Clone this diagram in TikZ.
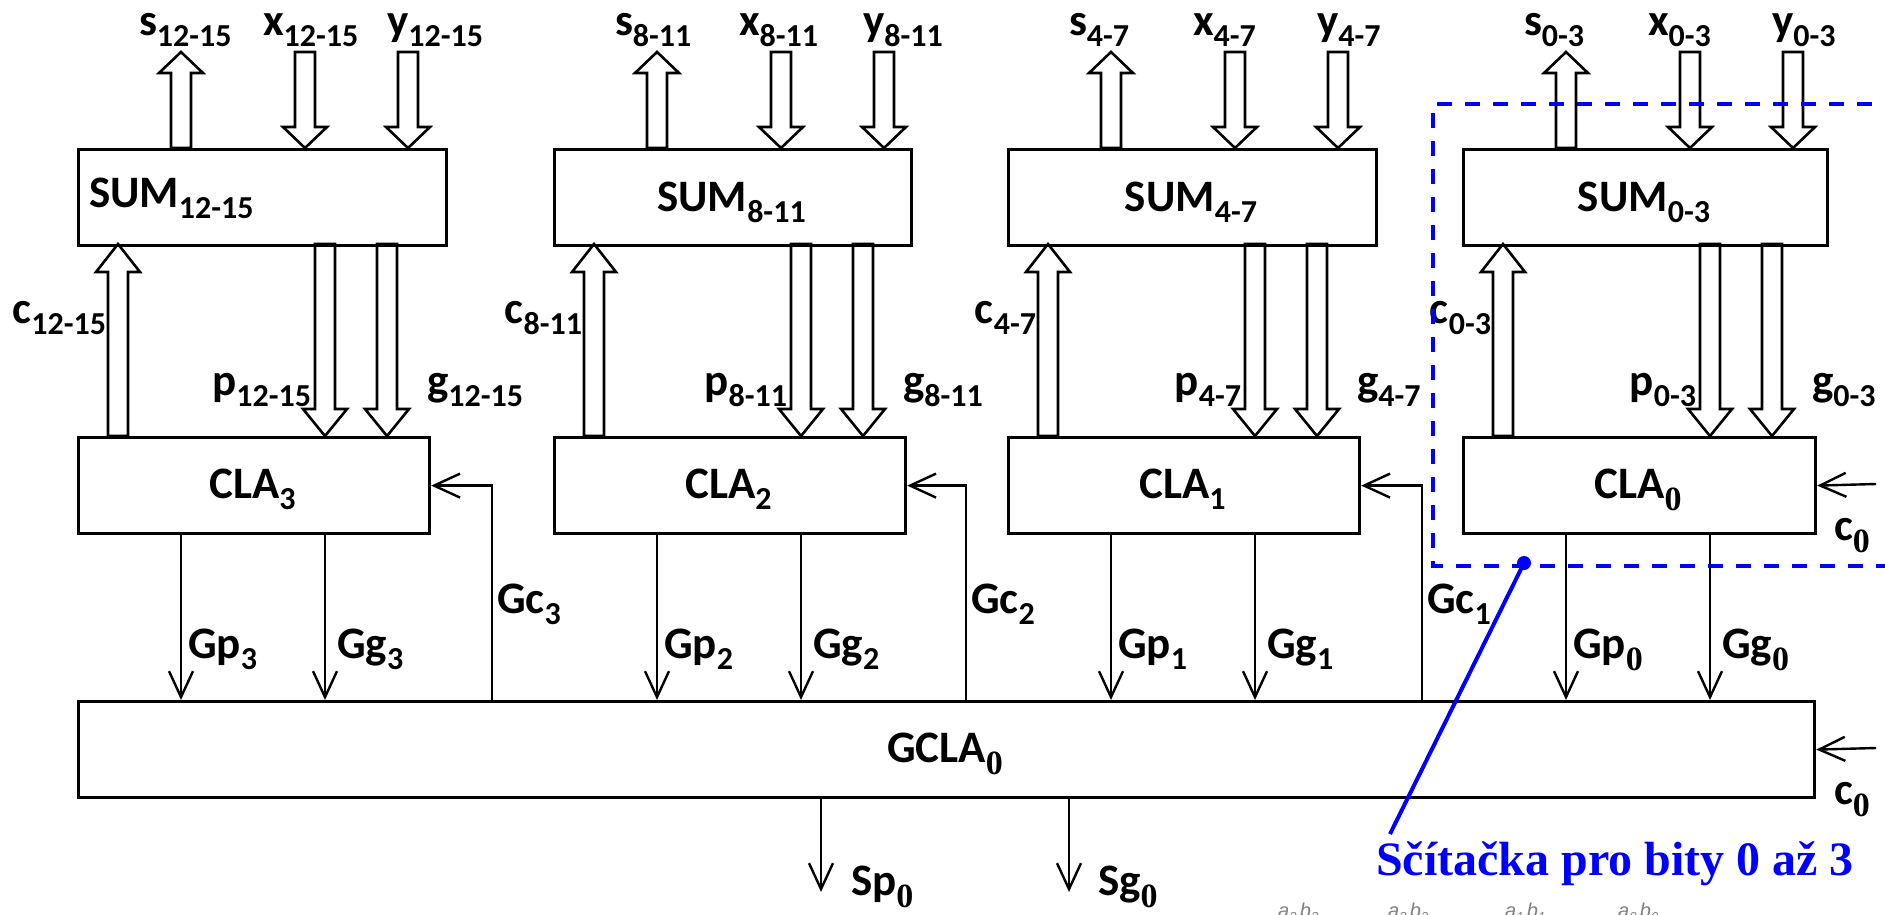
\documentclass[tikz,border=0pt]{standalone}
\usepackage{fontspec}
\setmainfont{Carlito}
\newfontfamily\tnrf{Liberation Serif}
\newfontfamily\arlf{Liberation Sans}
\usetikzlibrary{arrows.meta}
\newcommand\sbc[1]{\raisebox{-11pt}{\fontsize{32}{32}\selectfont #1}}
\newcommand\sbt[1]{\raisebox{-12pt}{\fontsize{34}{34}\selectfont\tnrf\bfseries #1}}
\newcommand\sbn[1]{\ifnum#1=0 \sbt{0}\else\sbc{#1}\fi}
\newcommand\wup[4]{\path[wa] (#1-10,#2) -- (#1-10,#3+#4) -- (#1-22,#3+#4) -- (#1,#3) -- (#1+22,#3+#4) -- (#1+10,#3+#4) -- (#1+10,#2) -- cycle;}
\newcommand\wdn[4]{\path[wa] (#1-10,#2) -- (#1-10,#3-#4) -- (#1-22,#3-#4) -- (#1,#3) -- (#1+22,#3-#4) -- (#1+10,#3-#4) -- (#1+10,#2) -- cycle;}
\begin{document}
\begin{tikzpicture}[x=1pt,y=-1pt,
 wa/.style={draw=black, fill=white, line width=2.6pt, line join=miter},
 box/.style={draw=black, line width=3.2pt, inner sep=0pt, minimum height=96},
 lbl/.style={inner sep=0pt, outer sep=0pt, font=\fontsize{45}{50}\selectfont\bfseries},
 ta/.style={line width=2.4pt, -{Straight Barb[length=26pt,width=24pt,line width=2.4pt]}},
 blu/.style={draw=blue, line width=4pt}]
\fill[white] (0,0) rectangle (1885,914);
\useasboundingbox (0,0) rectangle (1885,914);
% wide (bus) arrows
\foreach \L in {77,553,1007,1462}{
 \wup{\L+104}{148}{52}{21}
 \wdn{\L+228}{52}{148}{21}
 \wdn{\L+331}{52}{148}{21}
 \wup{\L+41}{436}{244}{28}
 \wdn{\L+248}{244}{436}{27}
 \wdn{\L+310}{244}{436}{27}
}
% GCLA
\node[box, minimum width=1736, anchor=north west] (G) at (77,700) {};
\node[lbl, anchor=base] (lG) at (945,762) {GCLA\sbt{0}};
% blocks
\foreach \i/\L/\sw/\cw/\sub/\gx/\sa/\sx/\sy/\cx in {
 3/77/368/351/12-15/492/base west/89/207/252.5,
 2/553/357/351/8-11/966/base/731.5/211/728.5,
 1/1007/368/351/4-7/1422/base/1191/211/1182.5,
 0/1462/364/352/0-3/0/base/1644/211/1638}{
 \node[box, minimum width=\sw, anchor=north west] (S\i) at (\L,148) {};
 \node[box, minimum width=\cw, anchor=north west] (C\i) at (\L,436) {};
 \node[lbl, anchor=\sa] (lS\i) at (\sx,\sy) {SUM\sbc{\sub}};
 \node[lbl, anchor=base west] (ls\i) at (\L+62,35) {s\sbc{\sub}};
 \node[lbl, anchor=base west] (lx\i) at (\L+186,35) {x\sbc{\sub}};
 \node[lbl, anchor=base west] (ly\i) at (\L+310,35) {y\sbc{\sub}};
 \node[lbl, anchor=base east] (lc\i) at (\L+29,323) {c\sbc{\sub}};
 \node[lbl, anchor=base east] (lp\i) at (\L+234,395) {p\sbc{\sub}};
 \node[lbl, anchor=base west] (lg\i) at (\L+350,395) {g\sbc{\sub}};
 \node[lbl, anchor=base] (lC\i) at (\cx,498) {CLA\sbn{\i}};
 \coordinate (gp\i) at (\L+104,0);
 \coordinate (gg\i) at (\L+248,0);
 \draw[ta] (C\i.south -| gp\i) -- (G.north -| gp\i);
 \draw[ta] (C\i.south -| gg\i) -- (G.north -| gg\i);
 \node[lbl, anchor=base west] (lgp\i) at (\L+111,658) {Gp\sbn{\i}};
 \node[lbl, anchor=base west] (lgg\i) at (\L+260,658) {Gg\sbn{\i}};
 \ifnum\i>0
  \coordinate (gc\i) at (\gx,0);
  \draw[ta, line join=miter] (G.north -| gc\i) |- (C\i.east);
  \node[lbl, anchor=base west] (lgc\i) at (\gx+5,613) {Gc\sbc{\i}};
 \fi
}
% carry in
\coordinate (c0a) at (1876,484);
\coordinate (c0b) at (1876,748);
\draw[ta] (c0a) -- (C0.east);
\draw[ta] (c0b) -- (G.east);
\node[lbl, anchor=base west] (lc0a) at (1834,540) {c\sbt{0}};
\node[lbl, anchor=base west] (lc0b) at (1834,804) {c\sbt{0}};
% group outputs
\coordinate (spe) at (821,892);
\coordinate (sge) at (1069,892);
\draw[ta] (G.south -| spe) -- (spe);
\draw[ta] (G.south -| sge) -- (sge);
\node[lbl, anchor=base west] (lsp) at (851,895) {Sp\sbt{0}};
\node[lbl, anchor=base west] (lsg) at (1098,895) {Sg\sbt{0}};
% faint cut-off labels at the bottom edge
\foreach \k/\nn in {1278/3,1388/2,1505/1,1618/0}{
 \node[anchor=base west, inner sep=0pt, text=gray, font=\arlf\itshape\fontsize{20}{20}\selectfont] (ab\nn) at (\k,917)
  {a\raisebox{-4pt}{\fontsize{13}{13}\selectfont\nn}\,b\raisebox{-4pt}{\fontsize{13}{13}\selectfont\nn}};
}
% highlighted adder for bits 0..3
\draw[blu, dash pattern=on 15pt off 13pt] (1900,104) -- (1433,104) -- (1433,566) -- (1900,566);
\node[circle, fill=blue, inner sep=0pt, minimum size=14] (dot) at (1524,563) {};
\coordinate (lead) at (1390,834);
\draw[blu] (dot.center) -- (lead);
\node[anchor=base west, inner sep=0pt, text=blue, font=\tnrf\bfseries\fontsize{48}{50}\selectfont] (note) at (1376,875) {Sčítačka pro bity 0 až 3};
\end{tikzpicture}
\end{document}
